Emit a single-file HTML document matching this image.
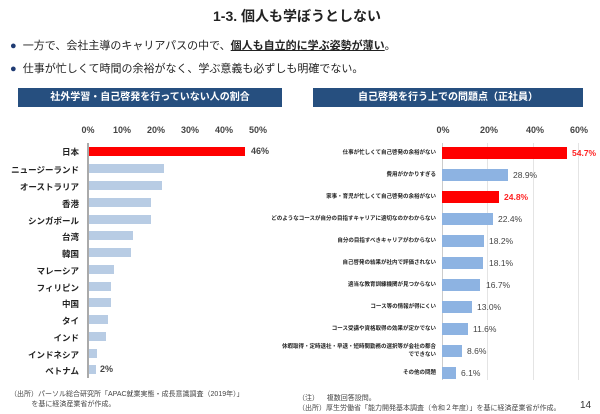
<!DOCTYPE html>
<html><head><meta charset="utf-8"><style>
body{margin:0;width:600px;height:414px;background:#fff;position:relative;overflow:hidden;font-family:"Liberation Sans","Noto Sans CJK JP",sans-serif;color:#222}
.a{position:absolute;white-space:nowrap}
.hd{position:absolute;background:#264f7f;color:#fff;font-weight:bold;font-size:10px;text-align:center;line-height:19px;height:19px}
.tk{position:absolute;font-size:9px;font-weight:bold;color:#444;transform:translateX(-50%);top:125px}
.ll{position:absolute;right:521px;font-size:8.5px;font-weight:bold;text-align:right;white-space:nowrap}
.lb{position:absolute;left:89px;height:9px;background:#b8cce4}
.rl{position:absolute;right:164px;font-size:5.5px;font-weight:bold;text-align:right;white-space:nowrap;line-height:8px}
.rb{position:absolute;left:442px;height:12px;background:#8db3e2}
.rv{position:absolute;font-size:8.5px;color:#444}
</style></head><body>
<div class="a" style="left:213px;top:6px;font-size:14px;font-weight:bold">1-3. 個人も学ぼうとしない</div>
<div class="a" style="left:10px;top:37px;font-size:11px"><span style="color:#1f3b73">●</span>&nbsp; 一方で、会社主導のキャリアパスの中で、<b style="text-decoration:underline">個人も自立的に学ぶ姿勢が薄い</b>。</div>
<div class="a" style="left:10px;top:60px;font-size:11px"><span style="color:#1f3b73">●</span>&nbsp; 仕事が忙しくて時間の余裕がなく、学ぶ意義も必ずしも明確でない。</div>
<div class="hd" style="left:18px;top:88px;width:264px">社外学習・自己啓発を行っていない人の割合</div>
<div class="hd" style="left:313px;top:88px;width:270px">自己啓発を行う上での問題点（正社員）</div>

<div class="tk" style="left:88px">0%</div><div class="tk" style="left:122px">10%</div><div class="tk" style="left:156px">20%</div><div class="tk" style="left:190px">30%</div><div class="tk" style="left:224px">40%</div><div class="tk" style="left:258px">50%</div>
<div class="a" style="left:87px;top:143px;width:2px;height:235px;background:#aaa"></div>
<div class="ll" style="top:146px">日本</div><div class="lb" style="top:147px;width:156px;background:#f00"></div><div class="a" style="left:251px;top:146px;font-size:9px;font-weight:bold;color:#444">46%</div>
<div class="ll" style="top:164px">ニュージーランド</div><div class="lb" style="top:164px;width:75px"></div>
<div class="ll" style="top:181px">オーストラリア</div><div class="lb" style="top:181px;width:73px"></div>
<div class="ll" style="top:198px">香港</div><div class="lb" style="top:198px;width:62px"></div>
<div class="ll" style="top:215px">シンガポール</div><div class="lb" style="top:215px;width:62px"></div>
<div class="ll" style="top:231px">台湾</div><div class="lb" style="top:231px;width:44px"></div>
<div class="ll" style="top:248px">韓国</div><div class="lb" style="top:248px;width:42px"></div>
<div class="ll" style="top:265px">マレーシア</div><div class="lb" style="top:265px;width:25px"></div>
<div class="ll" style="top:282px">フィリピン</div><div class="lb" style="top:282px;width:22px"></div>
<div class="ll" style="top:298px">中国</div><div class="lb" style="top:298px;width:22px"></div>
<div class="ll" style="top:315px">タイ</div><div class="lb" style="top:315px;width:19px"></div>
<div class="ll" style="top:332px">インド</div><div class="lb" style="top:332px;width:17px"></div>
<div class="ll" style="top:349px">インドネシア</div><div class="lb" style="top:349px;width:8px"></div>
<div class="ll" style="top:365px">ベトナム</div><div class="lb" style="top:365px;width:7px"></div><div class="a" style="left:100px;top:364px;font-size:9px;font-weight:bold;color:#444">2%</div>

<div class="tk" style="left:443px">0%</div><div class="tk" style="left:489px">20%</div><div class="tk" style="left:535px">40%</div><div class="tk" style="left:579px">60%</div>
<div class="a" style="left:442px;top:143px;width:1px;height:237px;background:#ccc"></div>
<div class="a" style="left:487px;top:143px;width:1px;height:237px;background:#e4e4e4"></div>
<div class="a" style="left:533px;top:143px;width:1px;height:237px;background:#e4e4e4"></div>
<div class="a" style="left:578px;top:143px;width:1px;height:237px;background:#e4e4e4"></div>
<div class="rl" style="top:149px">仕事が忙しくて自己啓発の余裕がない</div><div class="rb" style="top:147px;width:125px;background:#f00"></div><div class="rv" style="left:572px;top:148px;color:#f22;font-weight:bold">54.7%</div>
<div class="rl" style="top:171px">費用がかかりすぎる</div><div class="rb" style="top:169px;width:66px"></div><div class="rv" style="left:513px;top:170px">28.9%</div>
<div class="rl" style="top:193px">家事・育児が忙しくて自己啓発の余裕がない</div><div class="rb" style="top:191px;width:57px;background:#f00"></div><div class="rv" style="left:504px;top:192px;color:#f22;font-weight:bold">24.8%</div>
<div class="rl" style="top:215px">どのようなコースが自分の目指すキャリアに適切なのかわからない</div><div class="rb" style="top:213px;width:51px"></div><div class="rv" style="left:498px;top:214px">22.4%</div>
<div class="rl" style="top:237px">自分の目指すべきキャリアがわからない</div><div class="rb" style="top:235px;width:42px"></div><div class="rv" style="left:489px;top:236px">18.2%</div>
<div class="rl" style="top:259px">自己啓発の結果が社内で評価されない</div><div class="rb" style="top:257px;width:41px"></div><div class="rv" style="left:489px;top:258px">18.1%</div>
<div class="rl" style="top:281px">適当な教育訓練機関が見つからない</div><div class="rb" style="top:279px;width:38px"></div><div class="rv" style="left:486px;top:280px">16.7%</div>
<div class="rl" style="top:303px">コース等の情報が得にくい</div><div class="rb" style="top:301px;width:30px"></div><div class="rv" style="left:477px;top:302px">13.0%</div>
<div class="rl" style="top:325px">コース受講や資格取得の効果が定かでない</div><div class="rb" style="top:323px;width:26px"></div><div class="rv" style="left:473px;top:324px">11.6%</div>
<div class="rl" style="top:343px">休暇取得・定時退社・早退・短時間勤務の選択等が会社の都合<br>でできない</div><div class="rb" style="top:345px;width:20px"></div><div class="rv" style="left:467px;top:346px">8.6%</div>
<div class="rl" style="top:369px">その他の問題</div><div class="rb" style="top:367px;width:14px"></div><div class="rv" style="left:461px;top:368px">6.1%</div>

<div class="a" style="left:10px;top:390px;font-size:7px;color:#444;line-height:10px">（出所）パーソル総合研究所「APAC就業実態・成長意識調査（2019年）」<br>&nbsp;&nbsp;&nbsp;&nbsp;&nbsp;&nbsp;&nbsp;&nbsp;&nbsp;&nbsp;&nbsp;を基に経済産業省が作成。</div>
<div class="a" style="left:298px;top:394px;font-size:7px;color:#444;line-height:10px">（注）&nbsp;&nbsp;&nbsp;&nbsp;複数回答設問。<br>（出所）厚生労働省「能力開発基本調査（令和２年度）」を基に経済産業省が作成。</div>
<div class="a" style="left:580px;top:400px;font-size:10px;color:#333">14</div>
</body></html>
